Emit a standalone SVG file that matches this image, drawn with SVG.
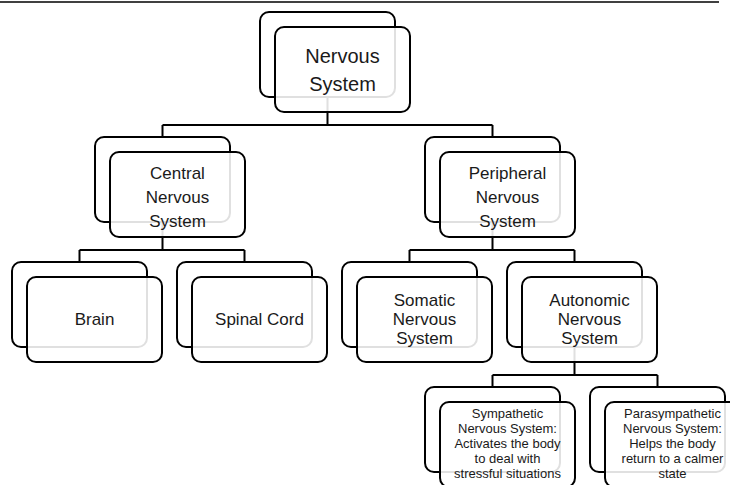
<svg xmlns="http://www.w3.org/2000/svg" width="730" height="485" viewBox="0 0 730 485">
<style>
.bk{fill:#fff;stroke:#000;stroke-width:2}
.fr{fill:#fff;fill-opacity:0.88;stroke:#000;stroke-width:2}
.cn{fill:none;stroke:#000;stroke-width:2}
text{font-family:"Liberation Sans",Arial,sans-serif;fill:#1a1a1a;text-anchor:middle}
.t1{font-size:20px}
.t2{font-size:17px}
.t4{font-size:13px}
</style>
<rect width="730" height="485" fill="#fff"/>
<line x1="0" y1="2" x2="719" y2="2" stroke="#000" stroke-width="1.5"/>
<g id="connectors">
<path class="cn" d="M327.5,97V125M162.5,125H492.5M162.5,125V137M492.5,125V137"/>
<path class="cn" d="M162.5,222V250M79.5,250H244.5M79.5,250V262M244.5,250V262"/>
<path class="cn" d="M492.5,222V250M409.5,250H574.5M409.5,250V262M574.5,250V262"/>
<path class="cn" d="M574.5,347V375M492.5,375H657.5M492.5,375V387M657.5,375V387"/>
</g>
<g id="nervous-system">
<rect class="bk" x="260" y="12" width="135" height="85" rx="9"/>
<rect class="fr" x="275" y="27" width="135" height="85" rx="9"/>
<text class="t1" x="342.5" y="63">Nervous</text>
<text class="t1" x="342.5" y="91">System</text>
</g>
<g id="central">
<rect class="bk" x="95" y="137" width="135" height="85" rx="9"/>
<rect class="fr" x="110" y="152" width="135" height="85" rx="9"/>
<text class="t2" x="177.5" y="179">Central</text>
<text class="t2" x="177.5" y="203">Nervous</text>
<text class="t2" x="177.5" y="227">System</text>
</g>
<g id="peripheral">
<rect class="bk" x="425" y="137" width="135" height="85" rx="9"/>
<rect class="fr" x="440" y="152" width="135" height="85" rx="9"/>
<text class="t2" x="507.5" y="179">Peripheral</text>
<text class="t2" x="507.5" y="203">Nervous</text>
<text class="t2" x="507.5" y="227">System</text>
</g>
<g id="brain">
<rect class="bk" x="12" y="262" width="135" height="85" rx="9"/>
<rect class="fr" x="27" y="277" width="135" height="85" rx="9"/>
<text class="t2" x="94.5" y="325">Brain</text>
</g>
<g id="spinal-cord">
<rect class="bk" x="177" y="262" width="135" height="85" rx="9"/>
<rect class="fr" x="192" y="277" width="135" height="85" rx="9"/>
<text class="t2" x="259.5" y="325">Spinal Cord</text>
</g>
<g id="somatic">
<rect class="bk" x="342" y="262" width="135" height="85" rx="9"/>
<rect class="fr" x="357" y="277" width="135" height="85" rx="9"/>
<text class="t2" x="424.5" y="306">Somatic</text>
<text class="t2" x="424.5" y="325">Nervous</text>
<text class="t2" x="424.5" y="344">System</text>
</g>
<g id="autonomic">
<rect class="bk" x="507" y="262" width="135" height="85" rx="9"/>
<rect class="fr" x="522" y="277" width="135" height="85" rx="9"/>
<text class="t2" x="589.5" y="306">Autonomic</text>
<text class="t2" x="589.5" y="325">Nervous</text>
<text class="t2" x="589.5" y="344">System</text>
</g>
<g id="sympathetic">
<rect class="bk" x="425" y="387" width="135" height="85" rx="9"/>
<rect class="fr" x="440" y="402" width="135" height="85" rx="9"/>
<text class="t4" x="507.5" y="418">Sympathetic</text>
<text class="t4" x="507.5" y="433">Nervous System:</text>
<text class="t4" x="507.5" y="448">Activates the body</text>
<text class="t4" x="507.5" y="463">to deal with</text>
<text class="t4" x="507.5" y="478">stressful situations</text>
</g>
<g id="parasympathetic">
<rect class="bk" x="590" y="387" width="135" height="85" rx="9"/>
<rect class="fr" x="605" y="402" width="135" height="85" rx="9"/>
<text class="t4" x="672.5" y="418">Parasympathetic</text>
<text class="t4" x="672.5" y="433">Nervous System:</text>
<text class="t4" x="672.5" y="448">Helps the body</text>
<text class="t4" x="672.5" y="463">return to a calmer</text>
<text class="t4" x="672.5" y="478">state</text>
</g>
</svg>
